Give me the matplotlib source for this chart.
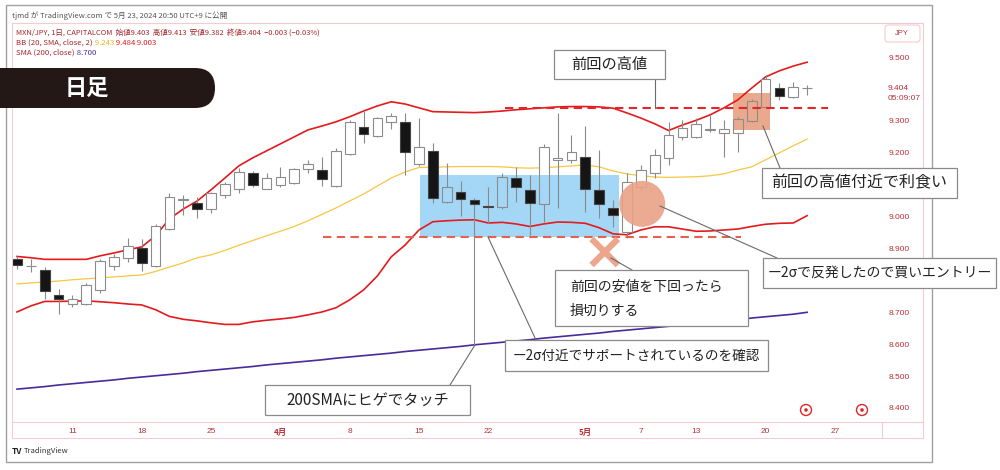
import numpy as np
import pandas as pd
import matplotlib
matplotlib.use('Agg')
import matplotlib.pyplot as plt
from matplotlib.patches import Rectangle, Ellipse, FancyBboxPatch, Circle
from matplotlib.lines import Line2D

plt.rcParams['font.family'] = ['Noto Sans CJK JP', 'DejaVu Sans']

# MXN/JPY daily, 2024-03-05 .. 2024-05-23
dates = pd.bdate_range('2024-03-05', '2024-05-23')
axis_dates = pd.bdate_range('2024-03-05', '2024-05-31')

opens = [8.866, 8.845, 8.833, 8.754, 8.727, 8.727, 8.770, 8.845, 8.870, 8.903,
         8.845, 8.961, 9.052, 9.042, 9.023, 9.068, 9.086, 9.136, 9.088, 9.100,
         9.105, 9.149, 9.146, 9.096, 9.197, 9.280, 9.253, 9.296, 9.297, 9.164,
         9.206, 9.045, 9.077, 9.052, 9.034, 9.031, 9.120, 9.084, 9.040, 9.177,
         9.177, 9.188, 9.084, 9.028, 8.953, 9.094, 9.136, 9.183, 9.251, 9.251,
         9.272, 9.261, 9.263, 9.301, 9.345, 9.403, 9.374, 9.403]
highs = [8.875, 8.866, 8.841, 8.772, 8.754, 8.793, 8.868, 8.883, 8.933, 8.929,
         8.977, 9.075, 9.068, 9.063, 9.078, 9.110, 9.152, 9.144, 9.138, 9.157,
         9.152, 9.176, 9.188, 9.214, 9.303, 9.332, 9.312, 9.326, 9.324, 9.309,
         9.230, 9.169, 9.113, 9.058, 9.092, 9.136, 9.157, 9.131, 9.228, 9.326,
         9.256, 9.284, 9.209, 9.052, 9.136, 9.162, 9.211, 9.298, 9.303, 9.308,
         9.319, 9.303, 9.313, 9.368, 9.444, 9.418, 9.423, 9.413]
lows = [8.835, 8.827, 8.743, 8.695, 8.718, 8.724, 8.762, 8.833, 8.858, 8.831,
        8.843, 8.958, 9.005, 8.995, 9.011, 9.058, 9.075, 9.092, 9.086, 9.092,
        9.103, 9.136, 9.096, 9.094, 9.193, 9.230, 9.251, 9.275, 9.131, 9.159,
        9.044, 9.042, 9.002, 8.597, 8.981, 9.023, 9.047, 8.943, 8.984, 9.026,
        9.169, 9.013, 8.997, 8.967, 8.932, 9.084, 9.120, 9.162, 9.240, 9.246,
        9.266, 9.186, 9.201, 9.296, 9.340, 9.366, 9.371, 9.382]
closes = [8.849, 8.846, 8.768, 8.743, 8.742, 8.784, 8.861, 8.874, 8.907, 8.856,
          8.970, 9.062, 9.054, 9.024, 9.073, 9.102, 9.141, 9.098, 9.120, 9.124,
          9.149, 9.164, 9.118, 9.207, 9.298, 9.258, 9.309, 9.316, 9.204, 9.219,
          9.058, 9.094, 9.055, 9.039, 9.031, 9.125, 9.094, 9.042, 9.218, 9.184,
          9.203, 9.087, 9.039, 9.005, 9.109, 9.146, 9.193, 9.256, 9.277, 9.291,
          9.274, 9.274, 9.305, 9.364, 9.431, 9.378, 9.406, 9.404]

bb_upper = [8.875, 8.871, 8.866, 8.866, 8.866, 8.866, 8.877, 8.886, 8.896, 8.905,
            8.940, 8.993, 9.024, 9.049, 9.084, 9.121, 9.159, 9.184, 9.206, 9.228,
            9.250, 9.272, 9.284, 9.297, 9.313, 9.331, 9.347, 9.360, 9.353, 9.341,
            9.329, 9.328, 9.327, 9.326, 9.328, 9.331, 9.335, 9.338, 9.341, 9.344,
            9.345, 9.345, 9.344, 9.340, 9.325, 9.309, 9.291, 9.270, 9.287, 9.302,
            9.319, 9.341, 9.366, 9.403, 9.438, 9.457, 9.472, 9.484]
bb_basis = [8.789, 8.792, 8.795, 8.798, 8.802, 8.805, 8.808, 8.811, 8.814, 8.817,
            8.828, 8.842, 8.855, 8.871, 8.880, 8.894, 8.910, 8.925, 8.940, 8.954,
            8.969, 8.987, 9.007, 9.027, 9.049, 9.071, 9.096, 9.121, 9.140, 9.154,
            9.155, 9.156, 9.157, 9.157, 9.157, 9.156, 9.153, 9.152, 9.153, 9.156,
            9.159, 9.162, 9.156, 9.143, 9.134, 9.128, 9.124, 9.123, 9.124, 9.125,
            9.128, 9.134, 9.146, 9.156, 9.178, 9.200, 9.222, 9.243]
bb_lower = [8.701, 8.720, 8.734, 8.734, 8.735, 8.736, 8.733, 8.730, 8.726, 8.723,
            8.708, 8.687, 8.678, 8.673, 8.667, 8.662, 8.662, 8.670, 8.675, 8.679,
            8.684, 8.692, 8.701, 8.714, 8.739, 8.770, 8.814, 8.874, 8.911, 8.958,
            8.984, 8.987, 8.989, 8.990, 8.980, 8.982, 8.977, 8.969, 8.977, 8.983,
            8.982, 8.979, 8.965, 8.946, 8.943, 8.958, 8.968, 8.968, 8.961, 8.954,
            8.955, 8.958, 8.961, 8.969, 8.976, 8.979, 8.980, 9.003]
sma200 = [8.459, 8.463, 8.467, 8.472, 8.476, 8.480, 8.484, 8.488, 8.493, 8.497,
          8.501, 8.505, 8.509, 8.514, 8.518, 8.522, 8.526, 8.530, 8.535, 8.539,
          8.543, 8.547, 8.551, 8.556, 8.560, 8.564, 8.568, 8.572, 8.577, 8.581,
          8.585, 8.589, 8.593, 8.598, 8.602, 8.606, 8.610, 8.614, 8.619, 8.623,
          8.627, 8.631, 8.635, 8.640, 8.644, 8.648, 8.652, 8.656, 8.661, 8.665,
          8.669, 8.673, 8.677, 8.682, 8.686, 8.690, 8.694, 8.700]

tick_dates = ['2024-03-11', '2024-03-18', '2024-03-25', '2024-04-01', '2024-04-08',
              '2024-04-15', '2024-04-22', '2024-05-01', '2024-05-07', '2024-05-13',
              '2024-05-20', '2024-05-27']
tick_labels = ['11', '18', '25', '4月', '8', '15', '22', '5月', '7', '13', '20', '27']
# 9.100 / 8.800 sit under the callout boxes in the screenshot
price_ticks = [9.5, 9.3, 9.2, 9.0, 8.9, 8.7, 8.6, 8.5, 8.4]

prev_high = 9.340   # 前回の高値
prev_low = 8.935    # 前回の安値
support_zone = (29.05, 43.4, 8.936, 9.131)
takeprofit_zone = (51.66, 54.33, 9.272, 9.388)

W, H = 1000, 470
RED_TXT = '#b8323a'
fig = plt.figure(figsize=(W / 100, H / 100), dpi=100)
fig.patch.set_facecolor('white')
ax = fig.add_axes([12 / W, 1 - 422 / H, 870 / W, 399 / H])
ax.set_xlim(-0.36, 62.4)
ax.set_ylim(8.356, 9.607)
for s in ax.spines.values():
    s.set_visible(False)

x = np.arange(len(dates))

# zones under the candles
zones = [(support_zone, '#a3d7f5'), (takeprofit_zone, '#eaa88d')]
for (zx0, zx1, zy0, zy1), col in zones:
    ax.add_patch(Rectangle((zx0, zy0), zx1 - zx0, zy1 - zy0, fc=col, ec='none', zorder=1))

# indicators
ax.plot(x, bb_upper, color='#e41a1c', lw=1.2, zorder=2)
ax.plot(x, bb_lower, color='#e41a1c', lw=1.2, zorder=2)
ax.plot(x, bb_basis, color='#f6c744', lw=0.9, zorder=2)
ax.plot(x, sma200, color='#4a2a9c', lw=1.2, zorder=2)

# candles
bw = 0.7
for i in x:
    o, h, l, c = opens[i], highs[i], lows[i], closes[i]
    top, bot = max(o, c), min(o, c)
    ax.plot([i, i], [top, h], color='#8a8a8a', lw=0.8, zorder=2.7, solid_capstyle='butt')
    ax.plot([i, i], [l, bot], color='#8a8a8a', lw=0.8, zorder=2.7, solid_capstyle='butt')
    if c >= o:
        ax.add_patch(Rectangle((i - bw / 2, bot), bw, max(top - bot, 0.001),
                               fc='white', ec='none', zorder=2.5))
        for (zx0, zx1, zy0, zy1), col in zones:
            if zx0 <= i <= zx1:
                lo, hi = max(bot, zy0), min(top, zy1)
                if hi > lo:
                    ax.add_patch(Rectangle((i - bw / 2, lo), bw, hi - lo,
                                           fc=col, ec='none', zorder=2.6))
        ax.add_patch(Rectangle((i - bw / 2, bot), bw, max(top - bot, 0.001),
                               fc='none', ec='#8c8c8c', lw=0.8, zorder=3))
    else:
        ax.add_patch(Rectangle((i - bw / 2, bot), bw, max(top - bot, 0.001),
                               fc='#151515', ec='#444444', lw=0.8, zorder=3))

# previous high / low dashed lines
ax.plot([35.2, 58.5], [prev_high, prev_high], color='#e3262b', lw=1.5,
        dashes=(4, 2.6), zorder=3.5)
ax.plot([22.1, 52.2], [prev_low, prev_low], color='#e2624f', lw=1.5,
        dashes=(4, 2.6), zorder=3.5)

# entry circle and stop-loss cross
ax.add_patch(Ellipse((45.1, 9.040), 46 / 13.86, 46 / 319, fc='#e9a286', ec='none',
                     alpha=0.9, zorder=3.2))
cx, cy, dx, dy = 42.4, 8.889, 0.95, 0.041
ax.plot([cx - dx, cx + dx], [cy + dy, cy - dy], color='#eda58c', lw=4.5,
        solid_capstyle='butt', zorder=3.6)
ax.plot([cx - dx, cx + dx], [cy - dy, cy + dy], color='#eda58c', lw=4.5,
        solid_capstyle='butt', zorder=3.6)

# axes ticks
tick_pos = [axis_dates.get_loc(pd.Timestamp(d)) for d in tick_dates]
ax.set_xticks(tick_pos, tick_labels)
ax.yaxis.tick_right()
ax.set_yticks(price_ticks, [f'{v:.3f}' for v in price_ticks])
ax.tick_params(axis='x', length=0, pad=4.5, labelsize=6, labelcolor=RED_TXT)
ax.tick_params(axis='y', length=0, pad=4.5, labelsize=6, labelcolor=RED_TXT)
for lab in ax.get_xticklabels():
    if '月' in lab.get_text():
        lab.set_fontweight('bold')
    else:
        lab.set_fontfamily(['Liberation Sans', 'DejaVu Sans'])
for lab in ax.get_yticklabels():
    lab.set_fontfamily(['Liberation Sans', 'DejaVu Sans'])

# ---- figure level overlays, in pixel coords ----
T = fig.dpi_scale_trans


def P(px, py):
    return px / 100, (H - py) / 100


def rect(x0, y0, x1, y1, z=5, **kw):
    r = Rectangle(P(x0, y1), (x1 - x0) / 100, (y1 - y0) / 100, transform=T, zorder=z, **kw)
    fig.add_artist(r)


def seg(x0, y0, x1, y1, z=4, **kw):
    a, b = P(x0, y0)
    c, d = P(x1, y1)
    fig.add_artist(Line2D([a, c], [b, d], transform=T, zorder=z, **kw))


def txt(px, py, s, z=6, **kw):
    fig.text(*P(px, py), s, transform=T, zorder=z, **kw)


# frames
rect(6, 5, 932, 462, z=0.5, fc='none', ec='#a0a0a0', lw=1.0)
rect(12, 23, 923, 438, z=0.6, fc='none', ec='#f4cbd0', lw=0.8)
seg(12, 422, 923, 422, z=0.6, color='#f4cbd0', lw=0.8)
seg(882, 422, 882, 438, z=0.6, color='#f4cbd0', lw=0.8)
fig.add_artist(FancyBboxPatch(P(885, 42), 0.35, 0.17, boxstyle='round,pad=0,rounding_size=0.03',
                              transform=T, fc='white', ec='#f4cbd0', lw=0.8, zorder=1))
txt(902, 34, 'JPY', fontsize=5.5, color=RED_TXT, ha='center', va='center',
    family=['Liberation Sans', 'DejaVu Sans'])

# header and legend
txt(12, 16, 'tjmd が TradingView.com で 5月 23, 2024 20:50 UTC+9 に公開', fontsize=5.5,
    color='#555555', va='center')
renderer = fig.canvas.get_renderer()


def colored_line(x0, y0, parts, fs=5.6):
    xx = x0
    for s, col in parts:
        t = fig.text(*P(xx, y0), s, transform=T, fontsize=fs, color=col, va='center', zorder=6)
        xx += t.get_window_extent(renderer=renderer).width


colored_line(16, 33, [('MXN/JPY, 1日, CAPITALCOM  始値9.403  高値9.413  安値9.382  終値9.404  −0.003 (−0.03%)',
                       '#a8262c')], fs=5.4)
colored_line(16, 43, [('BB (20, SMA, close, 2)', '#a8262c'), (' 9.243', '#e8b923'),
                      (' 9.484', '#e41a1c'), (' 9.003', '#e41a1c')])
colored_line(16, 53, [('SMA (200, close)', '#a8262c'), (' 8.700', '#4a2a9c')])

txt(888, 88, '9.404', fontsize=6, color=RED_TXT, va='center', family=['Liberation Sans'])
txt(888, 99, '05:09:07', fontsize=6, color=RED_TXT, va='center', family=['Liberation Sans'])

# 日足 banner
fig.add_artist(FancyBboxPatch(P(-40, 108), 2.55, 0.40, boxstyle='round,pad=0,rounding_size=0.2',
                              transform=T, fc='#231815', ec='none', zorder=5))
txt(87, 88, '日足', fontsize=16, fontweight='bold', color='white', ha='center', va='center')

# event markers
for mx in [806, 862]:
    fig.add_artist(Circle(P(mx, 410), 0.055, transform=T, fc='white', ec='#e0262b', lw=1.0, zorder=5))
    fig.add_artist(Circle(P(mx, 410), 0.018, transform=T, fc='#e0262b', ec='none', zorder=5))

# TradingView logo
txt(12, 451, 'TV', fontsize=6, fontweight='bold', color='#222222', va='center')
txt(24, 451, 'TradingView', fontsize=5.5, color='#333333', va='center')

# annotation pointers
gray = '#6a6a6a'
seg(655, 79, 655, 108, color=gray, lw=0.8)
seg(780, 168, 763, 126, color=gray, lw=0.8)
seg(777, 258, 660, 206, color=gray, lw=0.8)
seg(632, 270, 611, 258, color=gray, lw=0.8)
seg(536, 340, 488, 237, color=gray, lw=0.8)
seg(450, 385, 475, 345, color=gray, lw=0.8)

# annotation boxes
boxes = [
    ((554, 50, 665, 79), '前回の高値', 11),
    ((762, 168, 957, 198), '前回の高値付近で利食い', 11.5),
    ((763, 258, 996, 288), 'ー2σで反発したので買いエントリー', 10),
    ((505, 340, 768, 371), 'ー2σ付近でサポートされているのを確認', 9.8),
    ((265, 385, 470, 415), '200SMAにヒゲでタッチ', 11),
]
for (x0, y0, x1, y1), s, fs in boxes:
    rect(x0, y0, x1, y1, fc='white', ec='#8a8a8a', lw=0.9)
    txt((x0 + x1) / 2, (y0 + y1) / 2, s, fontsize=fs, color='#222222', ha='center', va='center')
rect(555, 270, 748, 326, fc='white', ec='#8a8a8a', lw=0.9)
txt(570, 287, '前回の安値を下回ったら', fontsize=10, color='#222222', va='center')
txt(570, 311, '損切りする', fontsize=10, color='#222222', va='center')

fig.savefig('out.png', dpi=100)
